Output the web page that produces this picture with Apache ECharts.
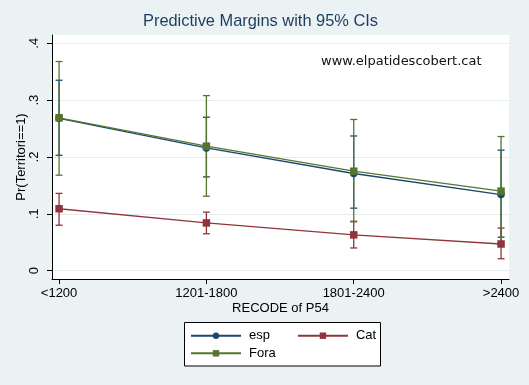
<!DOCTYPE html>
<html><head><meta charset="utf-8">
<script src="https://cdn.jsdelivr.net/npm/echarts@6/dist/echarts.min.js"></script>
<style>html,body{margin:0;padding:0;background:#eaf2f3}#c{width:529px;height:385px}</style>
</head><body><div id="c"></div>
<script>
// ---- data ----
const categories = ['<1200', '1201-1800', '1801-2400', '>2400'];
const yTickValues = [0, 0.1, 0.2, 0.3, 0.4];
const yTickLabels = ['0', '.1', '.2', '.3', '.4'];

const espMargin = [0.268, 0.216, 0.171, 0.134];
const espLower  = [0.203, 0.165, 0.110, 0.059];
const espUpper  = [0.335, 0.270, 0.237, 0.212];

const catMargin = [0.109, 0.084, 0.063, 0.047];
const catLower  = [0.080, 0.065, 0.040, 0.021];
const catUpper  = [0.136, 0.103, 0.087, 0.075];

const foraMargin = [0.269, 0.219, 0.175, 0.140];
const foraLower  = [0.168, 0.131, 0.086, 0.046];
const foraUpper  = [0.368, 0.308, 0.266, 0.236];

// ---- styles ----
const FONT = 'Liberation Sans, Arial, sans-serif';
const C_ESP = '#1a476f', C_CAT = '#90353b', C_FORA = '#55752f';

const xPos = categories.map((c, i) => i + 1);
const lineData = v => xPos.map((x, i) => [x, v[i]]);
const ciData = (lo, hi) => xPos.map((x, i) => [x, lo[i], hi[i]]);

function ciSeries(name, color, lo, hi) {
  return {
    type: 'custom', name, silent: true, z: 2,
    data: ciData(lo, hi),
    encode: { x: 0, y: [1, 2] },
    renderItem: (params, api) => {
      const x = api.value(0);
      const p1 = api.coord([x, api.value(1)]);
      const p2 = api.coord([x, api.value(2)]);
      const w = 3.5, st = { stroke: color, lineWidth: 1.3 };
      return { type: 'group', children: [
        { type: 'line', shape: { x1: p1[0], y1: p1[1], x2: p2[0], y2: p2[1] }, style: st },
        { type: 'line', shape: { x1: p1[0] - w, y1: p1[1], x2: p1[0] + w, y2: p1[1] }, style: st },
        { type: 'line', shape: { x1: p2[0] - w, y1: p2[1], x2: p2[0] + w, y2: p2[1] }, style: st }
      ]};
    }
  };
}
function lineSeries(name, color, vals, symbol) {
  return {
    type: 'line', name, data: lineData(vals), z: 3,
    symbol, symbolSize: 7.5,
    lineStyle: { color, width: 1.3 },
    itemStyle: { color }
  };
}

const chart = echarts.init(document.getElementById('c'), null, { renderer: 'canvas' });
chart.setOption({
  animation: false,
  backgroundColor: '#eaf2f3',
  title: [
    { text: 'Predictive Margins with 95% CIs', left: 143, top: 13, padding: 0,
      textStyle: { fontFamily: FONT, fontSize: 16.4, fontWeight: 'normal', color: '#1e3a5f' } },
    { text: 'www.elpatidescobert.cat', left: 321, top: 55, padding: 0,
      textStyle: { fontFamily: 'DejaVu Sans', fontSize: 13, fontWeight: 'normal', color: '#111' } }
  ],
  grid: { left: 52, right: 20, top: 35, bottom: 106, show: true, backgroundColor: '#ffffff', borderWidth: 0 },
  xAxis: {
    type: 'value', min: 0.952, max: 4.054,
    axisLine: { show: true, onZero: false, lineStyle: { color: '#000', width: 1 } },
    axisTick: { show: true, length: 5, customValues: xPos, lineStyle: { color: '#000' } },
    axisLabel: { customValues: xPos, formatter: v => categories[Math.round(v) - 1],
      color: '#000', fontFamily: FONT, fontSize: 13, margin: 8 },
    splitLine: { show: false },
    name: 'RECODE of P54', nameLocation: 'middle', nameGap: 23, nameMoveOverlap: false,
    nameTextStyle: { color: '#000', fontFamily: FONT, fontSize: 13 }
  },
  yAxis: {
    type: 'value', min: -0.0146, max: 0.4146,
    axisLine: { show: true, onZero: false, lineStyle: { color: '#000', width: 1 } },
    axisTick: { show: true, length: 5, customValues: yTickValues, lineStyle: { color: '#000' } },
    axisLabel: { customValues: yTickValues, rotate: 90, margin: 11,
      formatter: v => { const i = yTickValues.findIndex(t => Math.abs(t - v) < 1e-9); return i >= 0 ? yTickLabels[i] : ''; },
      color: '#000', fontFamily: FONT, fontSize: 13 },
    splitLine: { show: true, lineStyle: { color: '#e4ecee', width: 1 } },
    name: 'Pr(Territori==1)', nameLocation: 'middle', nameGap: 24, nameRotate: 90, nameMoveOverlap: false,
    nameTextStyle: { color: '#000', fontFamily: FONT, fontSize: 13 }
  },
  graphic: [
    { type: 'rect', z: 1, shape: { x: 184.5, y: 322.5, width: 196, height: 43.5 },
      style: { fill: '#ffffff', stroke: '#000', lineWidth: 1 } }
  ],
  legend: [
    { data: ['esp', 'Cat'], left: 190, top: 327.7, padding: 0, itemWidth: 50, itemHeight: 8, itemGap: 27,
      textStyle: { fontFamily: FONT, fontSize: 13, color: '#000', lineHeight: 16, padding: [0, 0, 0, 3] } },
    { data: ['Fora'], left: 190, top: 345.3, padding: 0, itemWidth: 50, itemHeight: 8,
      textStyle: { fontFamily: FONT, fontSize: 13, color: '#000', lineHeight: 16, padding: [0, 0, 0, 3] } }
  ],
  series: [
    ciSeries('espCI', C_ESP, espLower, espUpper),
    ciSeries('catCI', C_CAT, catLower, catUpper),
    ciSeries('foraCI', C_FORA, foraLower, foraUpper),
    lineSeries('esp', C_ESP, espMargin, 'circle'),
    lineSeries('Cat', C_CAT, catMargin, 'rect'),
    lineSeries('Fora', C_FORA, foraMargin, 'rect')
  ]
});
</script></body></html>
